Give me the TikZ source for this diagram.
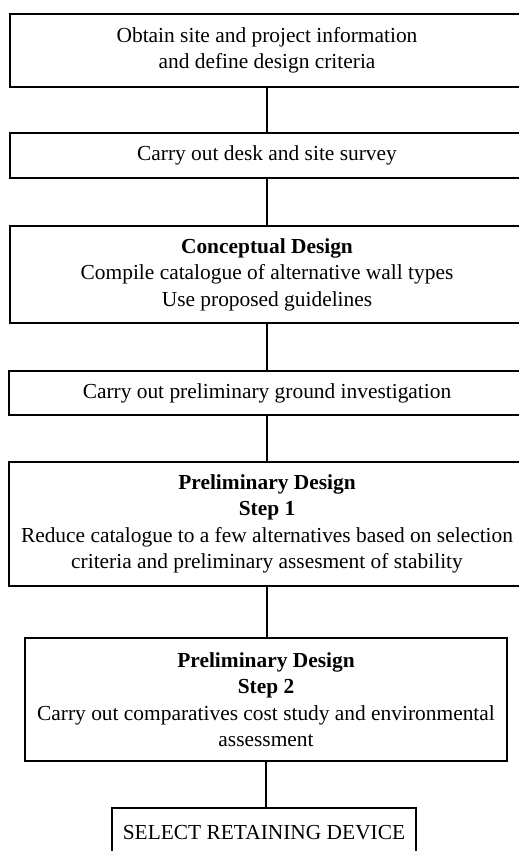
\documentclass[tikz,border=0pt]{standalone}
\usepackage{fontspec}
\setmainfont{Liberation Serif}

\begin{document}
\begin{tikzpicture}[x=1pt, y=-1pt, line width=1.6pt,
    stagebox/.style={draw, rectangle, align=center, inner sep=0pt, font=\fontsize{21.4}{26.5}\selectfont},
    link/.style={line width=1.6pt}]

    \useasboundingbox (0,0) rectangle (519,851);

    % Project information and survey
    \node[stagebox, minimum width=514pt, minimum height=73pt] (info) at (267,50.5) {Obtain site and project information\\and define design criteria};
    \node[stagebox, minimum width=514pt, minimum height=45pt] (survey) at (267,155.5) {Carry out desk and site survey};

    % Conceptual design
    \node[stagebox, minimum width=514pt, minimum height=97pt] (concept) at (267,274.5) {\textbf{Conceptual Design}\\Compile catalogue of alternative wall types\\Use proposed guidelines};
    \node[stagebox, minimum width=516pt, minimum height=44pt] (ground) at (267,393) {Carry out preliminary ground investigation};

    % Preliminary design, two steps
    \node[stagebox, minimum width=516pt, minimum height=124pt] (stepone) at (267,524) {\textbf{Preliminary Design}\\\textbf{Step 1}\\Reduce catalogue to a few alternatives based on selection\\criteria and preliminary assesment of stability};
    \node[stagebox, minimum width=482pt, minimum height=123pt] (steptwo) at (266,699.5) {\textbf{Preliminary Design}\\\textbf{Step 2}\\Carry out comparatives cost study and environmental\\assessment};

    % Final choice
    \node[stagebox, minimum width=304pt, minimum height=50pt] (select) at (264,833) {SELECT RETAINING DEVICE};

    \foreach \a/\b in {info/survey, survey/concept, concept/ground, ground/stepone, stepone/steptwo, steptwo/select} {
        \draw[link] (\a.south) -- (\a.south |- \b.north);
    }

\end{tikzpicture}
\end{document}
